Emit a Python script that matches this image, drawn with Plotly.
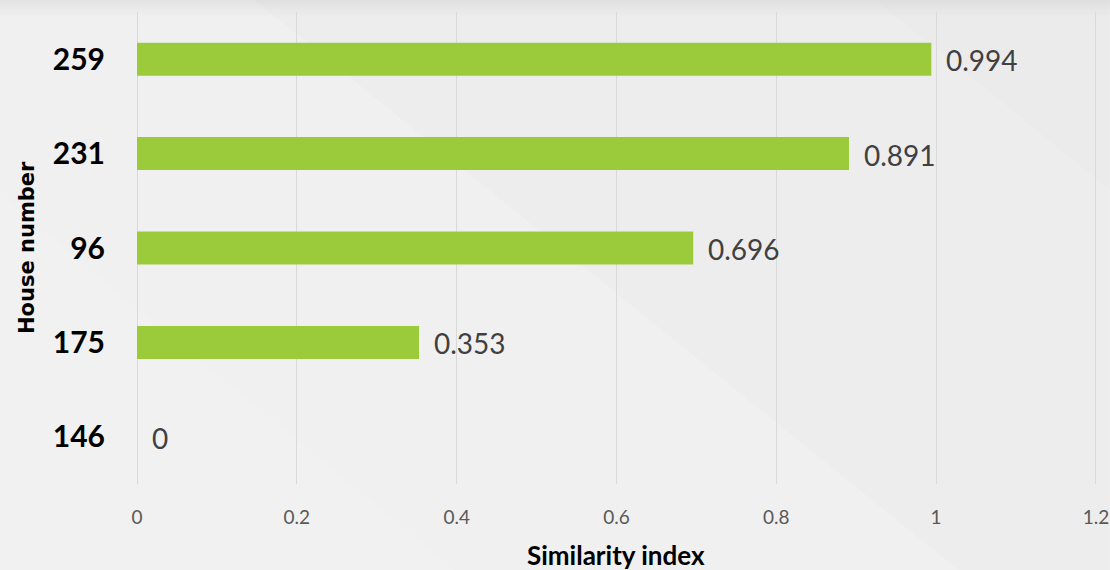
import plotly.graph_objects as go

# Data
houses = ["146", "175", "96", "231", "259"]
similarity = [0, 0.353, 0.696, 0.891, 0.994]
x_tick_vals = [0, 0.2, 0.4, 0.6, 0.8, 1, 1.2]
x_tick_text = ["0", "0.2", "0.4", "0.6", "0.8", "1", "1.2"]

# Figure geometry (pixels)
W, H = 1110, 570
L, R, T, B = 137, 13, 12, 86
PW, PH = W - L - R, H - T - B


def to_paper(x, y):
    """Convert figure pixel coords to paper coords."""
    return (x - L) / PW, (H - B - y) / PH


def poly(points, color):
    pts = [to_paper(x, y) for x, y in points]
    path = "M " + " L ".join(f"{a:.4f},{b:.4f}" for a, b in pts) + " Z"
    return dict(type="path", xref="paper", yref="paper", path=path,
                fillcolor=color, line=dict(width=0), layer="below")


shapes = []
# soft diagonal bands in the backdrop
shapes.append(poly([(0, 195), (456, 570), (0, 570)], "rgba(255,255,255,0.14)"))
shapes.append(poly([(39, 0), (254, 0), (958, 570), (456, 570), (0, 195), (0, 0)],
                   "rgba(255,255,255,0.10)"))
shapes.append(poly([(254, 0), (W, 0), (W, 570), (958, 570)], "rgba(0,0,0,0.006)"))
shapes.append(poly([(875, 0), (W, 0), (W, 190)], "rgba(0,0,0,0.006)"))
# darker fade along the top edge
for i, a in enumerate([0.05, 0.04, 0.03, 0.022, 0.015, 0.01, 0.005]):
    y0 = i * 2.5
    shapes.append(poly([(0, y0), (W, y0), (W, y0 + 2.5), (0, y0 + 2.5)],
                       f"rgba(0,0,0,{a})"))

fig = go.Figure()
fig.add_trace(go.Bar(
    x=similarity,
    y=houses,
    orientation="h",
    width=0.35,
    marker=dict(color="#9bcb3a", line=dict(width=0)),
    hoverinfo="skip",
))

# value labels beside each bar (y given as the category position)
annotations = [
    dict(x=v, y=i, xref="x", yref="y", text=f"{v:g}", showarrow=False,
         xanchor="left", yanchor="middle", xshift=13, yshift=-1,
         font=dict(family="Lato", size=28, color="#404040"))
    for i, v in enumerate(similarity)
]
annotations.append(dict(
    text="House number", xref="paper", yref="paper", x=to_paper(27, 0)[0], y=0.5,
    textangle=-90, showarrow=False, xanchor="center", yanchor="middle",
    font=dict(family="DejaVu Sans", size=21, color="#000000", weight="bold"),
))
annotations.append(dict(
    text="Similarity index", xref="paper", yref="paper", x=to_paper(616, 0)[0],
    y=to_paper(0, 555)[1], showarrow=False, xanchor="center", yanchor="middle",
    font=dict(family="Lato", size=26, color="#000000", weight="bold"),
))

fig.update_layout(
    width=W, height=H, autosize=False,
    margin=dict(l=L, r=R, t=T, b=B, pad=0, autoexpand=False),
    paper_bgcolor="#efefef",
    plot_bgcolor="rgba(0,0,0,0)",
    showlegend=False,
    shapes=shapes,
    annotations=annotations,
    xaxis=dict(
        range=[0, 1.2013], tickvals=x_tick_vals, ticktext=x_tick_text,
        showgrid=True, gridcolor="#d9d9d9", gridwidth=1, zeroline=True,
        zerolinecolor="#d9d9d9", zerolinewidth=1,
        showline=False, ticks="", ticklabelstandoff=20,
        tickfont=dict(family="Lato", size=19, color="#595959"),
        fixedrange=True, automargin=False,
    ),
    yaxis=dict(
        type="category", categoryorder="array", categoryarray=houses,
        range=[-0.5, 4.5], showgrid=False, zeroline=False, showline=False,
        ticks="", ticklabelstandoff=31,
        tickfont=dict(family="Lato", size=30, color="#000000", weight="bold"),
        fixedrange=True, automargin=False,
    ),
)

fig.write_html("out.html")
